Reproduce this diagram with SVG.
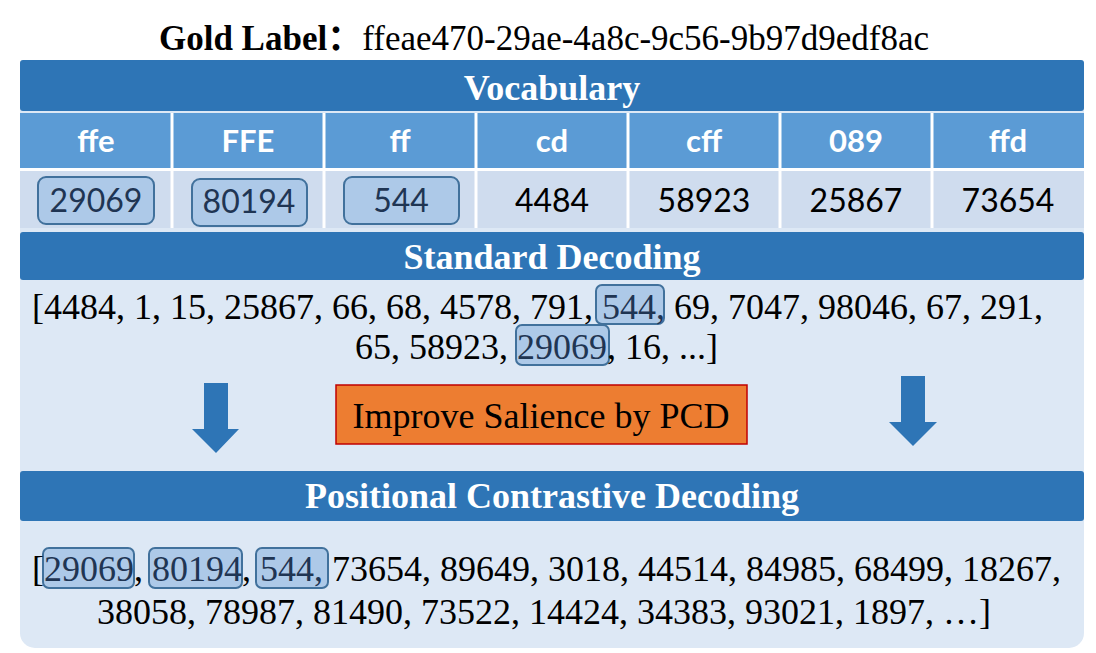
<svg xmlns="http://www.w3.org/2000/svg" width="1096" height="653" viewBox="0 0 1096 653">
<style>
.serif{font-family:"Liberation Serif","Times New Roman",serif;}
.hdr{fill:#2e75b6;}
.hdrtxt{font-family:"Liberation Serif","Times New Roman",serif;font-weight:bold;font-size:36px;fill:#ffffff;text-anchor:middle;}
.colh{fill:#5b9bd5;}
.colt{font-family:Lato,"Liberation Sans",sans-serif;font-weight:bold;font-size:31px;fill:#ffffff;text-anchor:middle;}
.cell{fill:#cfdcee;}
.val{font-family:Lato,"Liberation Sans",sans-serif;font-size:32px;fill:#000000;text-anchor:middle;}
.hl{fill:#adc9e8;stroke:#41719c;stroke-width:2;}
.hlt{fill:#1f3553;}
.seq{font-family:"Liberation Serif","Times New Roman",serif;font-size:36px;fill:#000000;}
.arrow{fill:#2e75b6;}
</style>
<rect width="1096" height="653" fill="#ffffff"/>
<g id="title">
<text x="544" y="50" text-anchor="middle" class="serif" font-size="35"><tspan font-weight="bold">Gold Label</tspan><tspan font-weight="bold" font-family="'Liberation Serif','Noto Sans CJK SC',serif">：</tspan><tspan>ffeae470-29ae-4a8c-9c56-9b97d9edf8ac</tspan></text>
</g>
<g id="panel">
<path d="M20,62 H1084 V633 A15,15 0 0 1 1069,648 H35 A15,15 0 0 1 20,633 Z" fill="#dde8f5"/>
</g>
<g id="vocabulary">
<rect class="hdr" x="20" y="60" width="1064" height="51" rx="3"/>
<text class="hdrtxt" x="552" y="100">Vocabulary</text>
<rect class="colh" x="20" y="113" width="1064" height="55"/>
<rect class="cell" x="20" y="171" width="1064" height="57"/>
<g stroke="#ffffff" stroke-width="3">
<line x1="172" y1="113" x2="172" y2="228"/>
<line x1="324" y1="113" x2="324" y2="228"/>
<line x1="476" y1="113" x2="476" y2="228"/>
<line x1="628" y1="113" x2="628" y2="228"/>
<line x1="780" y1="113" x2="780" y2="228"/>
<line x1="932" y1="113" x2="932" y2="228"/>
<line x1="20" y1="169.5" x2="1084" y2="169.5"/>
</g>
<text class="colt" x="96" y="152">ffe</text>
<text class="colt" x="248" y="152">FFE</text>
<text class="colt" x="400" y="152">ff</text>
<text class="colt" x="552" y="152">cd</text>
<text class="colt" x="704" y="152">cff</text>
<text class="colt" x="856" y="152">089</text>
<text class="colt" x="1008" y="152">ffd</text>
<rect class="hl" x="38" y="177" width="116" height="47" rx="8"/>
<rect class="hl" x="192" y="179" width="115" height="47" rx="8"/>
<rect class="hl" x="344" y="177" width="115" height="47" rx="8"/>
<text class="val hlt" x="96" y="212">29069</text>
<text class="val hlt" x="249" y="213">80194</text>
<text class="val hlt" x="401" y="212">544</text>
<text class="val" x="552" y="212">4484</text>
<text class="val" x="704" y="212">58923</text>
<text class="val" x="856" y="212">25867</text>
<text class="val" x="1008" y="212">73654</text>
</g>
<g id="standard-decoding">
<rect class="hdr" x="20" y="232" width="1064" height="48" rx="3"/>
<text class="hdrtxt" x="552" y="269">Standard Decoding</text>
<rect class="hl" x="596" y="285" width="68" height="39" rx="6"/>
<rect class="hl" x="516" y="325" width="93" height="40" rx="6"/>
<text class="seq" x="32" y="319">[4484, 1, 15, 25867, 66, 68, 4578, 791, <tspan class="hlt">544,</tspan> 69, 7047, 98046, 67, 291,</text>
<text class="seq" x="355" y="359">65, 58923, <tspan class="hlt">29069</tspan>, 16, ...]</text>
</g>
<g id="improve-salience">
<rect x="336" y="385" width="411" height="59" fill="#ed7d31" stroke="#c00000" stroke-width="1.5"/>
<text class="serif" x="541" y="428" font-size="36" text-anchor="middle" fill="#000000">Improve Salience by PCD</text>
</g>
<g id="connectors">
<path class="arrow" d="M204,383 H228 V429 H239 L216,453 L192,429 H204 Z"/>
<path class="arrow" d="M901,376 H925 V422 H937 L913,446 L889,422 H901 Z"/>
</g>
<g id="positional-contrastive-decoding">
<rect class="hdr" x="20" y="471" width="1064" height="50" rx="3"/>
<text class="hdrtxt" x="552" y="508">Positional Contrastive Decoding</text>
<rect class="hl" x="43" y="548" width="91" height="40" rx="6"/>
<rect class="hl" x="149" y="548" width="93" height="40" rx="6"/>
<rect class="hl" x="256" y="548" width="72" height="40" rx="6"/>
<text class="seq" x="32" y="581">[<tspan class="hlt">29069</tspan>, <tspan class="hlt">80194</tspan>, <tspan class="hlt">544,</tspan> 73654, 89649, 3018, 44514, 84985, 68499, 18267,</text>
<text class="seq" x="97" y="624">38058, 78987, 81490, 73522, 14424, 34383, 93021, 1897, …]</text>
</g>
</svg>
